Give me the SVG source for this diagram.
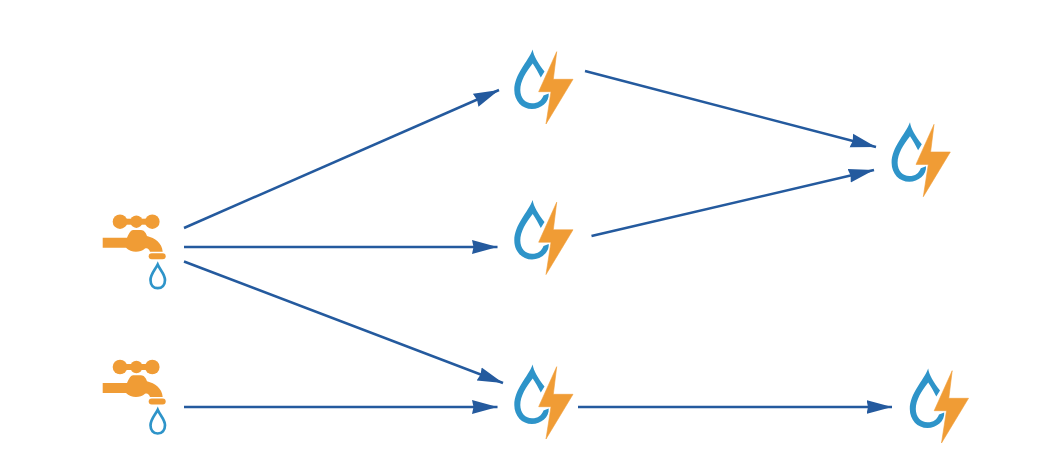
<svg xmlns="http://www.w3.org/2000/svg" width="1053" height="458" viewBox="0 0 1053 458">
<style>
.o{fill:#f09c35}
.p{fill:#f09c35;stroke:#f09c35;stroke-width:.6;stroke-linejoin:round}
.b{fill:#2e94c9}
.d{fill:none;stroke:#2e94c9;stroke-width:2.7}
.c{fill:none;stroke:#245a9e;stroke-width:2.5;marker-end:url(#h)}
</style>
<defs>
<marker id="h" markerUnits="userSpaceOnUse" markerWidth="28" markerHeight="16" refX="25.500" refY="7.500" orient="auto"><path d="M0 0.500L25.500 7.500L0 14.500L1.500 7.500Z" fill="#245a9e"/></marker>
<g id="power">
<path class="b" d="M532.700 49.500C533.500 56 538 63 544.500 71.500L540.800 77.500C538.500 73 535.500 67.500 532.700 63.500C526 72 520.300 81 520.300 90C520.300 98 525.500 103.300 532 103.300C538 103.300 541.500 100.500 543.500 95.500L548.700 93.500C549.500 102 541 109 532 109C522 109 514.300 101 514.300 90C514.300 74 528 62 532.700 49.500Z"/>
<path class="p" d="M556.700 51.700L553.300 79.300L573 79.300L546 124L551 91.700L538.700 91.700Z"/>
</g>
<g id="tap">
<circle class="o" cx="120" cy="221.700" r="7.300"/><circle class="o" cx="152.300" cy="221.700" r="7.300"/><circle class="o" cx="136.400" cy="221.700" r="6.200"/>
<rect class="o" x="120" y="218.700" width="32" height="6"/>
<path class="o" d="M102.700 237.700H127C129 233 131 230 133 230H141C144 230 146 233 147 236C155 238 162 243 162.700 251.700H150C149 248.500 147 247.500 145 248.500C140 253 131 253 126 247.700H102.700Z"/>
<rect class="o" x="148.700" y="253.300" width="17" height="6" rx="3"/>
<path class="d" d="M157.700 264.500C155 270 150.500 274 150.500 280C150.500 285 153.500 288.200 157.700 288.200C162 288.200 165 285 165 280C165 274 160 270 157.700 264.500Z"/>
</g>
</defs>
<g id="connectors">
<path class="c" d="M184 228L499 90"/>
<path class="c" d="M184 247L497.500 247"/>
<path class="c" d="M184 261.500L503 383"/>
<path class="c" d="M184 407L497.500 407"/>
<path class="c" d="M585 71L876 147"/>
<path class="c" d="M591.500 236L874 170"/>
<path class="c" d="M578 407L892 407"/>
</g>
<g id="tap1"><use href="#tap"/></g>
<g id="tap2"><use href="#tap" y="145.300"/></g>
<g id="power1"><use href="#power"/></g>
<g id="power2"><use href="#power" y="150.500"/></g>
<g id="power3"><use href="#power" y="315"/></g>
<g id="power4"><use href="#power" x="377.300" y="72.700"/></g>
<g id="power5"><use href="#power" x="395.500" y="319"/></g>
</svg>
